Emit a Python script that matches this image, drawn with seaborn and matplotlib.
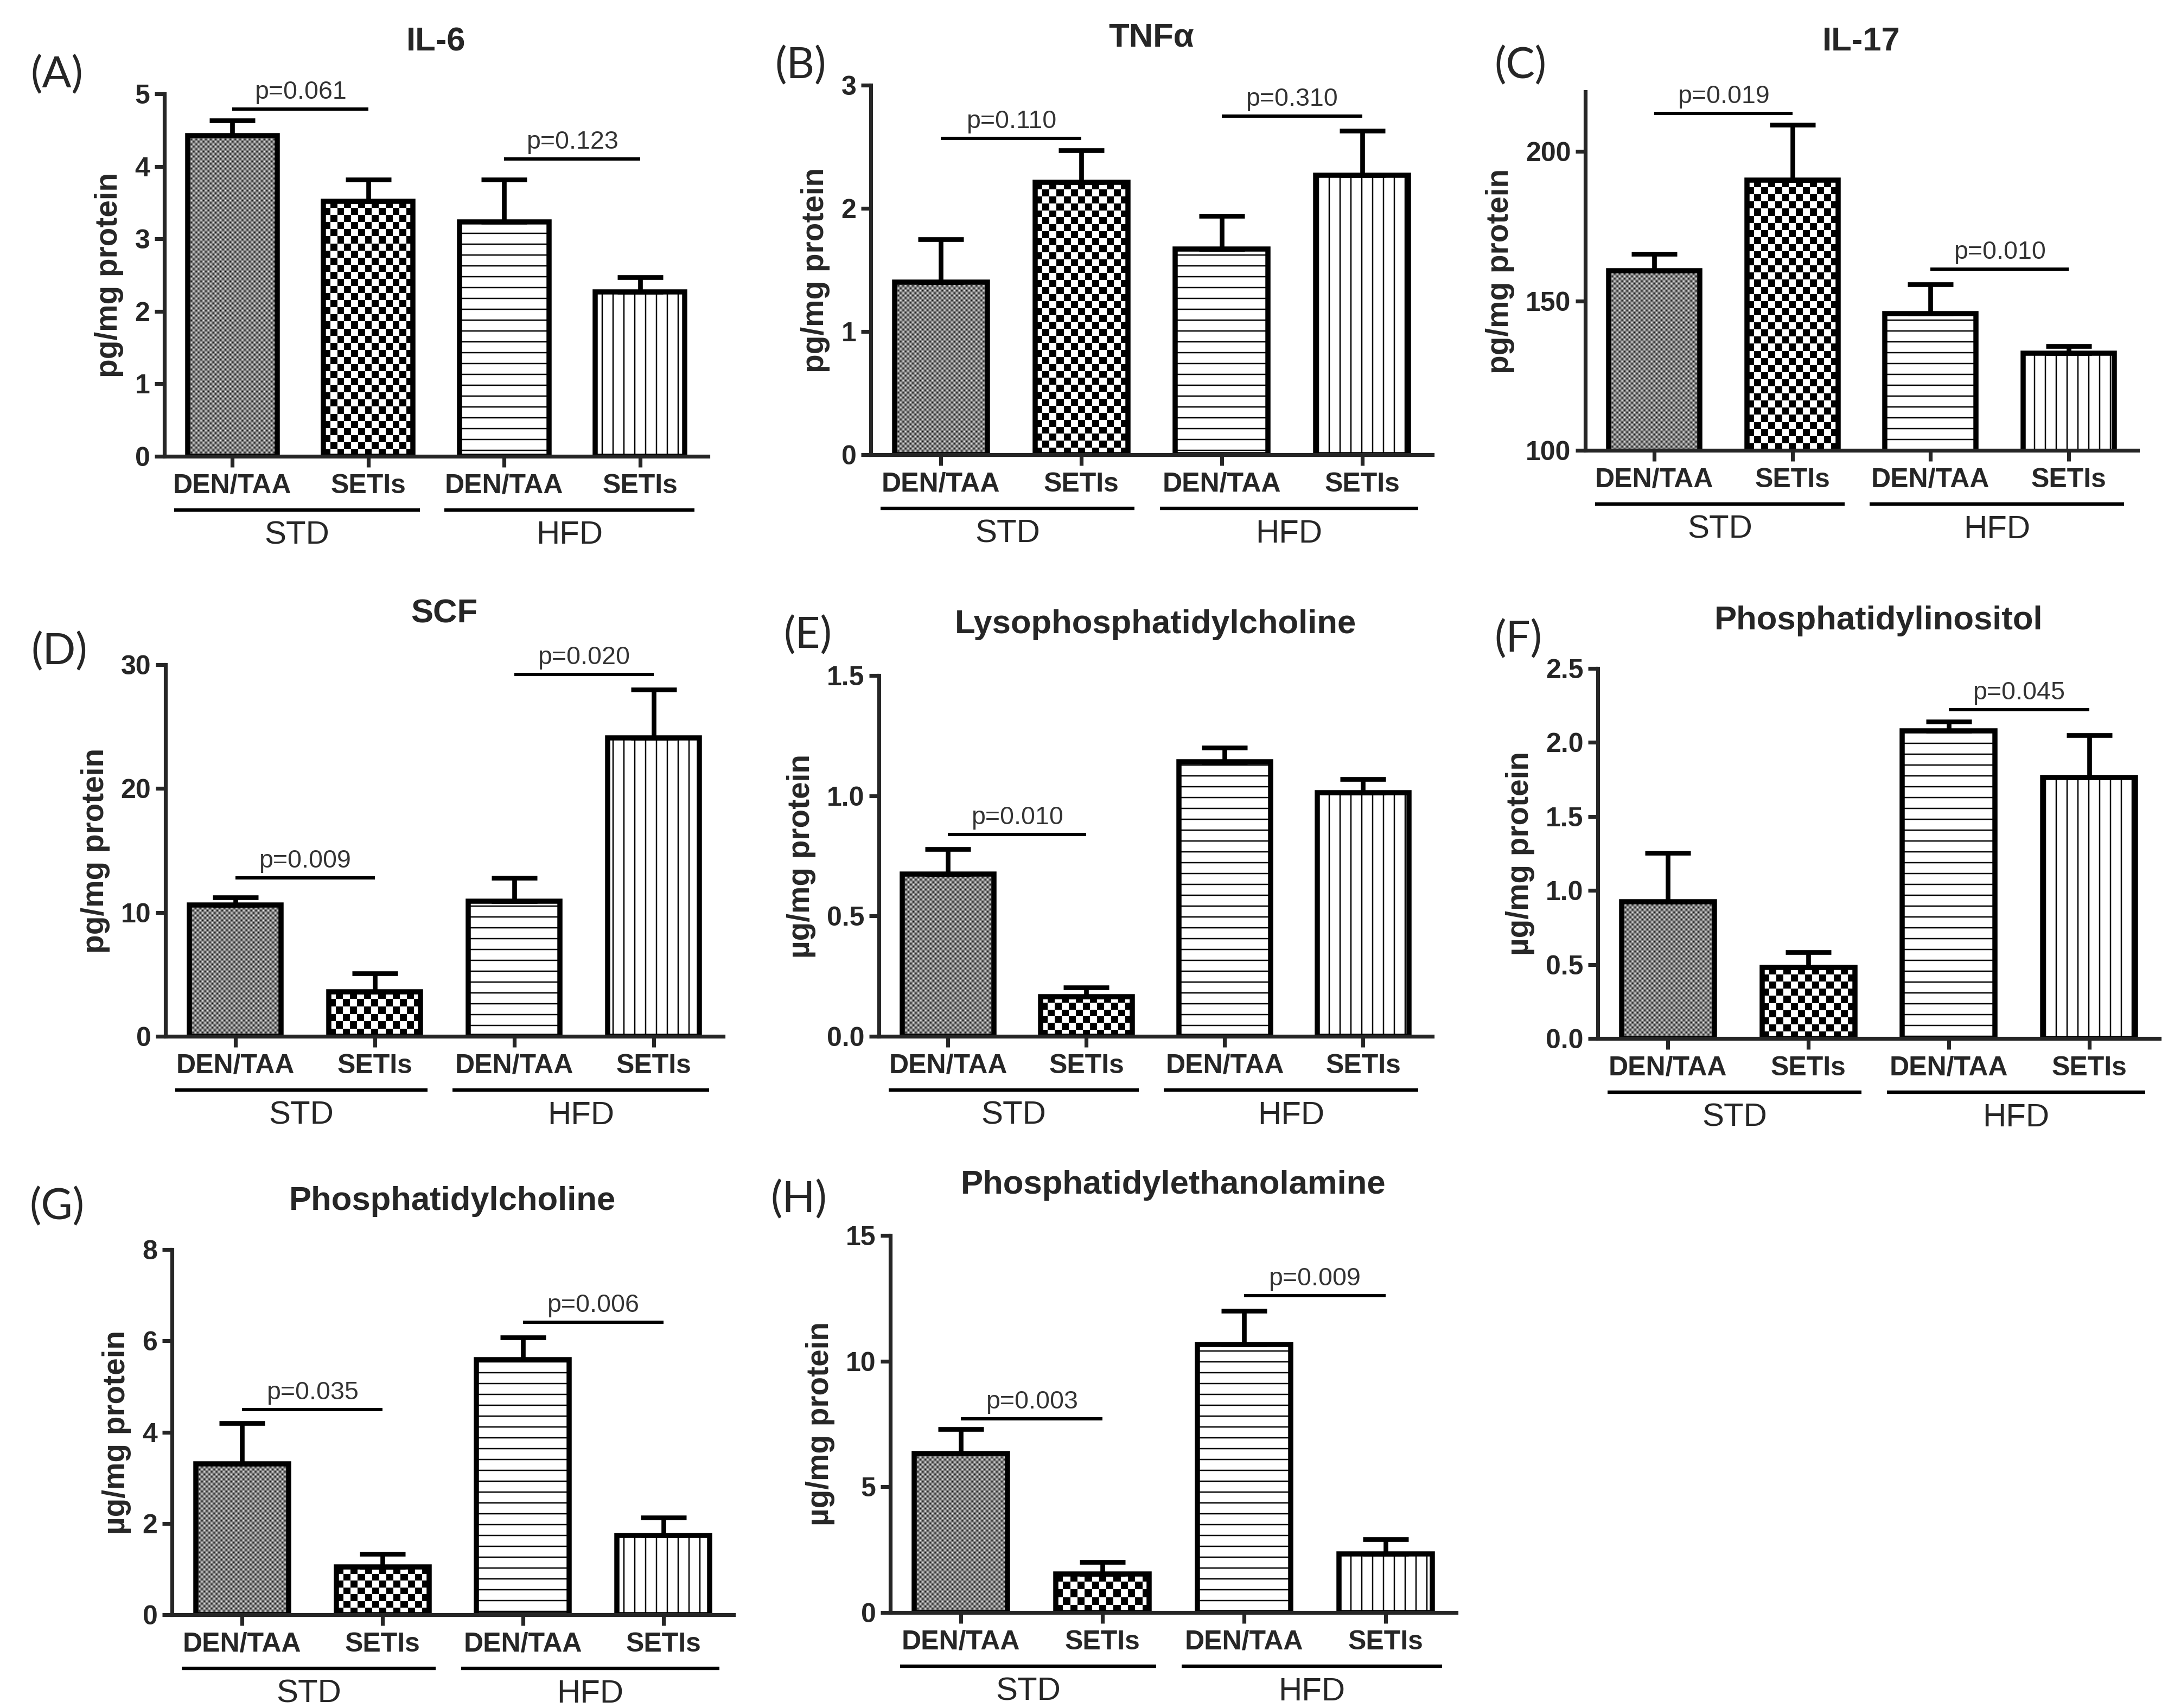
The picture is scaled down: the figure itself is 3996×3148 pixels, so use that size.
import matplotlib
matplotlib.use("Agg")
import matplotlib.pyplot as plt
import matplotlib.transforms as mtransforms
import numpy as np
import pandas as pd
import seaborn as sns

# ── data ──────────────────────────────────────────────────────
GROUPS = ["STD DEN/TAA", "STD SETIs", "HFD DEN/TAA", "HFD SETIs"]
TICK_LABELS = ["DEN/TAA", "SETIs", "DEN/TAA", "SETIs"]
DIETS = ["STD", "HFD"]

IL6_MEAN = [4.42, 3.52, 3.23, 2.27]
IL6_SEM = [0.21, 0.30, 0.59, 0.20]
IL6_P = [(0, 1, 4.79, "p=0.061"), (2, 3, 4.10, "p=0.123")]

TNF_MEAN = [1.40, 2.21, 1.67, 2.27]
TNF_SEM = [0.35, 0.26, 0.27, 0.36]
TNF_P = [(0, 1, 2.57, "p=0.110"), (2, 3, 2.75, "p=0.310")]

IL17_MEAN = [160.1, 190.4, 145.7, 132.5]
IL17_SEM = [5.6, 18.5, 9.9, 2.4]
IL17_P = [(0, 1, 212.7, "p=0.019"), (2, 3, 160.7, "p=0.010")]

SCF_MEAN = [10.6, 3.6, 10.9, 24.1]
SCF_SEM = [0.6, 1.5, 1.9, 3.9]
SCF_P = [(0, 1, 12.8, "p=0.009"), (2, 3, 29.2, "p=0.020")]

LPC_MEAN = [0.675, 0.165, 1.142, 1.013]
LPC_SEM = [0.104, 0.038, 0.057, 0.056]
LPC_P = [(0, 1, 0.84, "p=0.010")]

PI_MEAN = [0.924, 0.479, 2.08, 1.765]
PI_SEM = [0.33, 0.104, 0.06, 0.285]
PI_P = [(2, 3, 2.22, "p=0.045")]

PC_MEAN = [3.31, 1.045, 5.59, 1.74]
PC_SEM = [0.89, 0.285, 0.48, 0.39]
PC_P = [(0, 1, 4.49, "p=0.035"), (2, 3, 6.41, "p=0.006")]

PE_MEAN = [6.32, 1.53, 10.66, 2.34]
PE_SEM = [0.98, 0.48, 1.35, 0.58]
PE_P = [(0, 1, 7.71, "p=0.003"), (2, 3, 12.6, "p=0.009")]

PG = "pg/mg protein"
UG = "\u00b5g/mg protein"

# ── layout (pixels of the 3997x3148 canvas) ───────────────────
DPI = 120
W, H = 3997, 3148

PANELS = [
    # letter, title, ylabel, mean, sem, pvals, ylim, yticks, fmt, axes box (l, t, r, b), title y, letter xy
    ("(A)", "IL-6", PG, IL6_MEAN, IL6_SEM, IL6_P, (0, 5), [0, 1, 2, 3, 4, 5], "{:g}",
     (303, 173, 1305, 841), 71, (105, 139)),
    ("(B)", "TNF\u03b1", PG, TNF_MEAN, TNF_SEM, TNF_P, (0, 3), [0, 1, 2, 3], "{:g}",
     (1605, 157, 2640, 838), 64, (1476, 122)),
    ("(C)", "IL-17", PG, IL17_MEAN, IL17_SEM, IL17_P, (100, 220), [100, 150, 200], "{:g}",
     (2922, 169, 3940, 830), 71, (2802, 122)),
    ("(D)", "SCF", PG, SCF_MEAN, SCF_SEM, SCF_P, (0, 30), [0, 10, 20, 30], "{:g}",
     (305, 1225, 1333, 1910), 1125, (109, 1202)),
    ("(E)", "Lysophosphatidylcholine", UG, LPC_MEAN, LPC_SEM, LPC_P, (0, 1.5), [0, 0.5, 1.0, 1.5], "{:.1f}",
     (1620, 1245, 2640, 1910), 1145, (1489, 1172)),
    ("(F)", "Phosphatidylinositol", UG, PI_MEAN, PI_SEM, PI_P, (0, 2.5), [0, 0.5, 1.0, 1.5, 2.0, 2.5], "{:.1f}",
     (2945, 1232, 3980, 1914), 1138, (2798, 1179)),
    ("(G)", "Phosphatidylcholine", UG, PC_MEAN, PC_SEM, PC_P, (0, 8), [0, 2, 4, 6, 8], "{:g}",
     (317, 2303, 1352, 2976), 2208, (105, 2225)),
    ("(H)", "Phosphatidylethanolamine", UG, PE_MEAN, PE_SEM, PE_P, (0, 15), [0, 5, 10, 15], "{:g}",
     (1641, 2277, 2684, 2972), 2178, (1472, 2212)),
]

# checker cell size in px and resampling for the two STD bars
CHECK_CELL = {0: (4.5, "bilinear"), 1: (13.0, "nearest")}
LINE_HATCH = {2: "-", 3: "|"}

sns.set_style("ticks")
plt.rcParams["font.family"] = ["Liberation Sans", "DejaVu Sans"]
plt.rcParams["hatch.linewidth"] = 1.5
plt.rcParams["hatch.color"] = "#1a1a1a"
plt.rcParams["axes.linewidth"] = 4.3


def px_off(trans, dx=0, dy=0):
    return mtransforms.offset_copy(trans, fig=fig, x=dx * 72 / DPI, y=dy * 72 / DPI, units="points")


def add_checker(ax, bar, cell, interp):
    ylo = max(bar.get_y(), ax.get_ylim()[0])
    x0, x1 = bar.get_x(), bar.get_x() + bar.get_width()
    y1 = bar.get_y() + bar.get_height()
    p0 = ax.transData.transform((x0, ylo))
    p1 = ax.transData.transform((x1, y1))
    nx = max(1, int(round((p1[0] - p0[0]) / cell)))
    ny = max(1, int(round((p1[1] - p0[1]) / cell)))
    arr = np.indices((ny, nx)).sum(axis=0) % 2
    im = ax.imshow(arr, cmap="gray", vmin=0, vmax=1, extent=(x0, x1, ylo, y1), origin="lower",
                   interpolation=interp, aspect="auto", zorder=1.5)
    im.set_clip_path(bar)


fig = plt.figure(figsize=(W / DPI, H / DPI), dpi=DPI)

for letter, title, ylabel, mean, sem, pvals, ylim, yticks, fmt, box, title_y, letter_xy in PANELS:
    l, t, r, b = box
    ax = fig.add_axes([l / W, 1 - b / H, (r - l) / W, (b - t) / H])
    df = pd.DataFrame({"group": GROUPS, "value": mean})
    sns.barplot(data=df, x="group", y="value", ax=ax, color="white", saturation=1,
                width=0.66, errorbar=None, edgecolor="black", linewidth=5.7)
    bars = list(ax.patches)[:4]
    ax.set_xlim(-0.5, 3.5)
    ax.set_ylim(*ylim)

    for i, bar in enumerate(bars):
        bar.set_zorder(2)
        if i in CHECK_CELL:
            bar.set_facecolor("none")
            add_checker(ax, bar, *CHECK_CELL[i])
        else:
            bar.set_facecolor("white")
            bar.set_hatch(LINE_HATCH[i])
    ax.set_xlim(-0.5, 3.5)
    ax.set_ylim(*ylim)

    x = np.arange(len(mean))
    ax.errorbar(x, mean, yerr=[np.zeros(len(sem)), sem], fmt="none", ecolor="black",
                elinewidth=5.2, capsize=25, capthick=5.2, zorder=3)

    # significance bars
    for i, j, y, txt in pvals:
        ax.plot([i, j], [y, y], color="black", lw=3.6, solid_capstyle="butt", zorder=3, clip_on=False)
        ax.text((i + j) / 2, y, txt, transform=px_off(ax.transData, dy=9), ha="center", va="bottom",
                fontsize=28, color="#333333")

    sns.despine(ax=ax)
    ax.set_yticks(yticks, [fmt.format(v) for v in yticks], fontsize=30, fontweight="bold")
    ax.set_xticks(x, TICK_LABELS, fontsize=30, fontweight="bold")
    ax.tick_params(axis="y", length=11, width=4.3, pad=5)
    ax.tick_params(axis="x", length=12, width=4.3, pad=7)
    ax.set_xlabel("")
    ax.set_ylabel(ylabel, fontsize=34, fontweight="bold", labelpad=12)

    # diet group lines and labels under the x tick labels
    for k, (x0, x1) in enumerate([(-0.43, 1.38), (1.56, 3.40)]):
        ax.plot([x0, x1], [0, 0], transform=px_off(ax.get_xaxis_transform(), dy=-99),
                color="black", lw=3.8, solid_capstyle="butt", clip_on=False)
        ax.text((x0 + x1) / 2, 0, DIETS[k], transform=px_off(ax.get_xaxis_transform(), dy=-146),
                ha="center", va="center", fontsize=36)

    fig.text((l + r) / 2 / W, 1 - title_y / H, title, ha="center", va="center_baseline",
             fontsize=37, fontweight="bold")
    fig.text(letter_xy[0] / W, 1 - letter_xy[1] / H, letter, ha="center", va="center",
             fontsize=48, family=["Lato", "DejaVu Sans"])

fig.savefig("out.png", dpi=DPI, facecolor="white")
